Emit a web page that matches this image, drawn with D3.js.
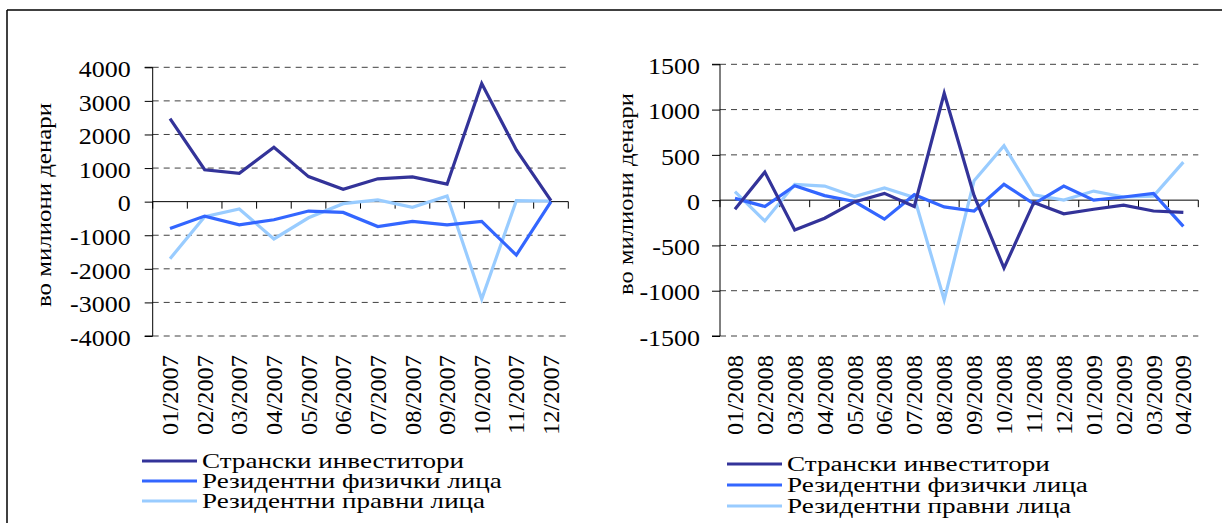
<!DOCTYPE html>
<html>
<head>
<meta charset="utf-8">
<script src="https://cdn.jsdelivr.net/npm/d3@7"></script>
<style>
  html, body { margin: 0; padding: 0; background: #fff; }
  svg { display: block; }
  text { font-family: "Liberation Serif", "DejaVu Serif", "Times New Roman", serif; fill: #000; }
</style>
</head>
<body>
<svg id="chart" width="1222" height="523"></svg>
<script>
// ---------- DATA ----------
const seriesNames = ["Странски инвеститори", "Резидентни физички лица", "Резидентни правни лица"];
const seriesColors = ["#333399", "#3366FF", "#99CCFF"];
const yLabel = "во милиони денари";

// Left chart (2007)
const categories2007 = ["01/2007","02/2007","03/2007","04/2007","05/2007","06/2007","07/2007","08/2007","09/2007","10/2007","11/2007","12/2007"];
const foreign2007    = [2470, 950, 845, 1620, 745, 370, 680, 735, 520, 3520, 1540, 30];
const individuals2007= [-800, -430, -690, -540, -280, -320, -740, -590, -690, -590, -1590, 0];
const legal2007      = [-1700, -450, -220, -1110, -480, -60, 50, -170, 170, -2900, 30, 20];
const yTicks2007     = [-4000, -3000, -2000, -1000, 0, 1000, 2000, 3000, 4000];

// Right chart (2008-2009)
const categories2008 = ["01/2008","02/2008","03/2008","04/2008","05/2008","06/2008","07/2008","08/2008","09/2008","10/2008","11/2008","12/2008","01/2009","02/2009","03/2009","04/2009"];
const foreign2008    = [-100, 310, -330, -200, -20, 75, -70, 1180, 50, -750, -25, -150, -100, -55, -120, -135];
const individuals2008= [20, -70, 160, 50, -15, -210, 60, -75, -120, 175, -40, 155, 0, 35, 75, -290];
const legal2008      = [95, -230, 175, 155, 40, 135, 30, -1100, 215, 600, 60, 0, 100, 35, 45, 420];
const yTicks2008     = [-1500, -1000, -500, 0, 500, 1000, 1500];

// ---------- DRAW ----------
const svg = d3.select("#chart");

// frame (top and left edges visible)
svg.append("line").attr("x1", 7).attr("y1", 10).attr("x2", 1222).attr("y2", 10)
  .attr("stroke", "#000").attr("stroke-width", 1.5);
svg.append("line").attr("x1", 7).attr("y1", 10).attr("x2", 7).attr("y2", 523)
  .attr("stroke", "#000").attr("stroke-width", 1.5);

// horizontal stretch so a text's natural width matches a wanted width
function stretchFactor(sel, wanted) {
  const w = sel.node().getComputedTextLength();
  return w > 0 ? wanted / w : 1;
}

function drawChart(cfg) {
  const g = svg.append("g");
  const x = d3.scaleBand().domain(cfg.categories).range([cfg.x0, cfg.x1]);
  const y = d3.scaleLinear().domain(cfg.yDomain).range([cfg.yBottom, cfg.yTop]);

  // dashed gridlines
  g.append("g").selectAll("line").data(cfg.yTicks.filter(d => d !== 0)).join("line")
    .attr("x1", cfg.x0).attr("x2", cfg.x1)
    .attr("y1", d => y(d)).attr("y2", d => y(d))
    .attr("stroke", "#404040").attr("stroke-width", 1)
    .attr("stroke-dasharray", "6,5");

  // y axis
  const yAxis = d3.axisLeft(y).tickValues(cfg.yTicks).tickSize(8).tickPadding(cfg.tickPad)
    .tickFormat(d => String(d));
  const ya = g.append("g").attr("transform", `translate(${cfg.x0},0)`).call(yAxis);
  ya.attr("font-family", null);
  ya.select(".domain").attr("stroke", "#000").attr("d", `M-8,${cfg.yTop}H0V${cfg.yBottom}H-8`);
  ya.selectAll(".tick line").attr("stroke", "#000");
  const tickTexts = ya.selectAll(".tick text")
    .style("font-size", cfg.tickFont + "px").attr("fill", "#000")
    .attr("dy", "0.4em").attr("x", 0);
  const topTick = ya.selectAll(".tick text").filter(d => d === cfg.yTicks[cfg.yTicks.length - 1]);
  const tsx = stretchFactor(topTick, cfg.tickTopWidth);
  tickTexts.attr("transform", `translate(${-(8 + cfg.tickPad)},0) scale(${tsx},1)`);

  // zero line with category ticks
  const y0 = y(0);
  g.append("line").attr("x1", cfg.x0).attr("x2", cfg.x1).attr("y1", y0).attr("y2", y0)
    .attr("stroke", "#000").attr("stroke-width", 1);
  const bounds = cfg.categories.map(c => x(c)).concat([cfg.x1]);
  g.append("g").selectAll("line").data(bounds).join("line")
    .attr("x1", d => d).attr("x2", d => d).attr("y1", y0).attr("y2", y0 + 7)
    .attr("stroke", "#000").attr("stroke-width", 1);

  // category labels (rotated, at bottom)
  const cats = g.append("g").selectAll("text").data(cfg.categories).join("text")
    .attr("text-anchor", "end").attr("dy", "0.35em")
    .style("font-size", cfg.catFont + "px")
    .text(d => d);
  const csx = stretchFactor(cats.filter((d, i) => i === 0), cfg.catLength);
  cats.attr("transform", d => `translate(${x(d) + x.bandwidth() / 2},${cfg.labelTop}) rotate(-90) scale(${csx},1)`);

  // y label
  const yl = g.append("text")
    .attr("text-anchor", "middle").attr("dy", "0.35em")
    .style("font-size", cfg.yLabelFont + "px")
    .text(yLabel);
  const ysx = stretchFactor(yl, cfg.yLabelLength);
  yl.attr("transform", `translate(${cfg.yLabelX},${cfg.yLabelY}) rotate(-90) scale(${ysx},1)`);

  // series lines
  const line = d3.line().x((d, i) => x(cfg.categories[i]) + x.bandwidth() / 2).y(d => y(d));
  [2, 1, 0].forEach(si => {
    g.append("path").datum(cfg.series[si]).attr("d", line)
      .attr("fill", "none").attr("stroke", seriesColors[si]).attr("stroke-width", 3.2)
      .attr("stroke-linejoin", "miter");
  });

  // legend
  const lg = g.append("g");
  const legTexts = [];
  seriesNames.forEach((name, i) => {
    const ly = cfg.legendY + i * cfg.legendStep;
    lg.append("line").attr("x1", cfg.legendX).attr("x2", cfg.legendX + 55)
      .attr("y1", ly).attr("y2", ly)
      .attr("stroke", seriesColors[i]).attr("stroke-width", 3);
    const t = lg.append("text").attr("dy", "0.33em")
      .attr("data-y", ly)
      .style("font-size", cfg.legendFont + "px").text(name);
    legTexts.push(t);
  });
  const lsx = stretchFactor(legTexts[0], cfg.legendWidth);
  legTexts.forEach(t => t.attr("transform", `translate(${cfg.legendX + 60},${t.attr("data-y")}) scale(${lsx},1)`));
}

drawChart({
  categories: categories2007,
  series: [foreign2007, individuals2007, legal2007],
  yTicks: yTicks2007, yDomain: [-4000, 4000],
  x0: 152.7, x1: 568.3, yTop: 67.3, yBottom: 336,
  tickPad: 14, tickFont: 23, tickTopWidth: 52,
  catFont: 23, catLength: 80, labelTop: 355,
  yLabelX: 43, yLabelY: 205, yLabelFont: 22, yLabelLength: 204,
  legendX: 142, legendY: 461, legendStep: 20, legendFont: 20, legendWidth: 262
});

drawChart({
  categories: categories2008,
  series: [foreign2008, individuals2008, legal2008],
  yTicks: yTicks2008, yDomain: [-1500, 1500],
  x0: 720, x1: 1198.3, yTop: 64.3, yBottom: 336,
  tickPad: 12, tickFont: 23, tickTopWidth: 52,
  catFont: 23, catLength: 80, labelTop: 355,
  yLabelX: 625, yLabelY: 194, yLabelFont: 22, yLabelLength: 202,
  legendX: 727, legendY: 464, legendStep: 21, legendFont: 20, legendWidth: 263
});
</script>
</body>
</html>
